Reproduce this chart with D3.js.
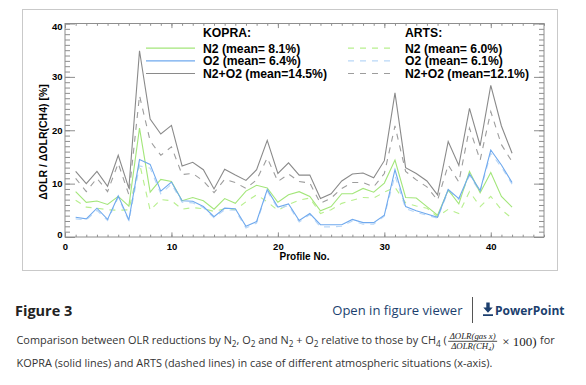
<!DOCTYPE html>
<html>
<head>
<meta charset="utf-8">
<script src="https://cdn.jsdelivr.net/npm/d3@7"></script>
<style>
  body { margin: 0; background: #fff; }
  .plot text { font-family: 'Liberation Sans', Arial, sans-serif; }
  .cap { font-family: 'Open Sans', sans-serif; }
  .serif { font-family: 'Liberation Serif', 'DejaVu Serif', serif; }
</style>
</head>
<body>
<div id="chart"></div>
<script>
// OLR reduction ratio chart, KOPRA vs ARTS

const profiles = d3.range(1, 43) // profile no. 1..42

const kopraN2 = [8.5, 6.5, 6.75, 6.1, 7.6, 5.8, 20.4, 8.4, 10.8, 10.4, 6.8, 7.4, 6.8, 5.2, 7.2, 6.3, 8.6, 9.7, 9.2, 6.5, 7.9, 8.5, 7.6, 4.9, 5.7, 8.1, 8.1, 9.1, 8.4, 10.1, 14.4, 7.4, 7.3, 5.7, 4.1, 8.8, 6.2, 12.3, 8.3, 12.1, 7.6, 5.6]
const kopraO2 = [3.7, 3.4, 5.4, 3.3, 7.7, 3.2, 14.5, 13.6, 8.6, 10.3, 6.8, 6.7, 5.7, 3.8, 5.4, 5.3, 2.0, 2.9, 8.9, 5.6, 6.2, 3.1, 4.4, 2.3, 2.3, 2.3, 3.3, 2.7, 2.7, 4.1, 12.6, 5.7, 4.9, 4.3, 3.7, 8.9, 7.2, 11.8, 8.7, 16.3, 13.5, 10.2]
const kopraN2O2 = [12.3, 10.0, 12.3, 9.5, 15.3, 9.1, 34.9, 22.1, 19.3, 20.9, 13.3, 14.0, 12.6, 9.0, 12.7, 11.6, 10.6, 12.6, 18.1, 11.9, 13.9, 11.6, 11.6, 7.2, 8.1, 10.5, 11.8, 12.0, 11.1, 14.3, 27.0, 13.0, 11.9, 10.5, 7.9, 17.9, 13.4, 24.1, 17.1, 28.4, 20.8, 15.7]
const artsN2 = [6.9, 5.6, 5.4, 5.1, 5.0, 5.1, 13.8, 5.0, 7.0, 6.8, 5.2, 5.5, 5.3, 4.8, 5.3, 5.1, 6.6, 7.9, 6.6, 5.0, 6.1, 6.9, 7.3, 4.4, 5.1, 6.3, 6.9, 7.4, 7.3, 8.4, 9.3, 6.4, 5.8, 5.4, 3.8, 5.2, 4.4, 8.5, 5.7, 7.6, 5.1, 3.5]
const artsO2 = [3.4, 3.2, 5.0, 3.1, 7.4, 3.0, 13.3, 12.9, 8.1, 9.9, 6.5, 6.4, 5.5, 3.6, 5.1, 5.0, 1.7, 2.6, 8.6, 5.3, 5.9, 2.8, 4.2, 1.9, 1.9, 2.0, 3.0, 2.4, 2.4, 3.9, 11.5, 5.3, 4.6, 4.1, 3.5, 8.6, 7.0, 11.5, 8.4, 15.7, 13.1, 9.9]
const artsN2O2 = [11.0, 8.5, 11.0, 8.5, 13.8, 7.9, 26.5, 18.0, 15.3, 16.9, 11.7, 11.9, 10.5, 8.3, 10.8, 10.2, 9.1, 10.7, 14.8, 10.4, 11.8, 10.4, 10.1, 6.3, 7.3, 9.1, 10.2, 10.2, 9.4, 11.9, 20.8, 12.3, 10.7, 9.4, 6.9, 13.5, 10.3, 20.4, 14.4, 23.5, 17.3, 14.1]

const xTicks = [0, 10, 20, 30, 40]
const yTicks = [0, 10, 20, 30, 40]
const kopraLabels = ['N2 (mean= 8.1%)', 'O2 (mean= 6.4%)', 'N2+O2 (mean=14.5%)']
const artsLabels = ['N2 (mean= 6.0%)', 'O2 (mean= 6.1%)', 'N2+O2 (mean=12.1%)']

const width = 586
const height = 385
const plot = { left: 65, right: 544, top: 23.5, bottom: 237 }
const axisColor = '#8e8e8e'

const green = '#a3e67a'
const greenDash = '#b8ef8e'
const blue = '#6fa9ee'
const blueDash = '#b9d7f7'
const gray = '#8a8a8a'
const grayDash = '#9d9d9d'

const svg = d3.select('#chart').append('svg').attr('width', width).attr('height', height)

// figure frame
svg.append('rect')
  .attr('x', 22.5).attr('y', 9.5).attr('width', 535).attr('height', 261)
  .attr('fill', 'none').attr('stroke', '#c9c9c9')

const g = svg.append('g').attr('class', 'plot')

const x = d3.scaleLinear().domain([0, 45]).range([plot.left, plot.right])
const y = d3.scaleLinear().domain([0, 40]).range([plot.bottom, plot.top])

function styleAxis (sel) {
  sel.select('.domain').remove()
  sel.selectAll('line').attr('stroke', axisColor)
  sel.selectAll('text')
    .attr('fill', '#000')
    .attr('font-weight', 'bold')
    .attr('font-size', 9.5)
    .attr('font-family', "'Liberation Sans', Arial, sans-serif")
}

// minor ticks, all four sides
g.append('g').attr('transform', 'translate(0,' + plot.bottom + ')')
  .call(d3.axisBottom(x).tickValues(d3.range(0, 46)).tickSize(-2.3).tickFormat(''))
  .call(styleAxis)
g.append('g').attr('transform', 'translate(0,' + plot.top + ')')
  .call(d3.axisTop(x).tickValues(d3.range(0, 46)).tickSize(-2.3).tickFormat(''))
  .call(styleAxis)
g.append('g').attr('transform', 'translate(' + plot.left + ',0)')
  .call(d3.axisLeft(y).tickValues(d3.range(0, 41)).tickSize(-5).tickFormat(''))
  .call(styleAxis)
g.append('g').attr('transform', 'translate(' + plot.right + ',0)')
  .call(d3.axisRight(y).tickValues(d3.range(0, 41)).tickSize(-5).tickFormat(''))
  .call(styleAxis)

// major ticks
g.append('g').attr('transform', 'translate(0,' + plot.bottom + ')')
  .call(d3.axisBottom(x).tickValues(xTicks).tickSize(-4.6).tickPadding(6.3))
  .call(styleAxis)
g.append('g').attr('transform', 'translate(0,' + plot.top + ')')
  .call(d3.axisTop(x).tickValues(xTicks).tickSize(-4.6).tickFormat(''))
  .call(styleAxis)
const yl = g.append('g').attr('transform', 'translate(' + plot.left + ',0)')
  .call(d3.axisLeft(y).tickValues(yTicks).tickSize(-10).tickPadding(2.5))
  .call(styleAxis)
yl.selectAll('text').attr('dy', d => d === 40 ? '0.62em' : d === 0 ? '0.1em' : '0.32em')
g.append('g').attr('transform', 'translate(' + plot.right + ',0)')
  .call(d3.axisRight(y).tickValues(yTicks).tickSize(-10).tickFormat(''))
  .call(styleAxis)

// plot box
g.append('rect')
  .attr('x', plot.left).attr('y', plot.top)
  .attr('width', plot.right - plot.left).attr('height', plot.bottom - plot.top)
  .attr('fill', 'none').attr('stroke', axisColor)

// axis titles
g.append('text')
  .attr('x', (plot.left + plot.right) / 2).attr('y', 259.5)
  .attr('text-anchor', 'middle').attr('font-weight', 'bold').attr('font-size', 10)
  .text('Profile No.')
g.append('text')
  .attr('transform', 'translate(46.5,142) rotate(-90)')
  .attr('text-anchor', 'middle').attr('font-weight', 'bold').attr('font-size', 10.5)
  .text('ΔOLR / ΔOLR(CH4) [%]')

// series lines
const series = [
  { values: artsN2, color: greenDash, dash: '6,6' },
  { values: artsN2O2, color: grayDash, dash: '6,6' },
  { values: artsO2, color: blueDash, dash: '6,6' },
  { values: kopraN2, color: green, dash: null },
  { values: kopraN2O2, color: gray, dash: null },
  { values: kopraO2, color: blue, dash: null }
]

const line = d3.line()
  .x((d, i) => x(profiles[i]))
  .y(d => y(d))

g.selectAll('path.series')
  .data(series)
  .join('path')
  .attr('class', 'series')
  .attr('d', d => line(d.values))
  .attr('fill', 'none')
  .attr('stroke', d => d.color)
  .attr('stroke-width', 1.1)
  .attr('stroke-dasharray', d => d.dash)

// legends
const legendRows = [48.2, 60.9, 73.5]
const kopraColors = [green, blue, gray]
const artsColors = [greenDash, blueDash, grayDash]
const legendSize = 12.2

function legend (title, labels, colors, dash, lx0, lx1, tx) {
  const lg = g.append('g')
  lg.append('text')
    .attr('x', tx).attr('y', 37.2)
    .attr('font-weight', 'bold').attr('font-size', legendSize)
    .text(title)
  labels.forEach((lab, i) => {
    lg.append('line')
      .attr('x1', lx0).attr('x2', lx1)
      .attr('y1', legendRows[i]).attr('y2', legendRows[i])
      .attr('stroke', colors[i]).attr('stroke-width', 1.2)
      .attr('stroke-dasharray', dash)
    lg.append('text')
      .attr('x', tx).attr('y', legendRows[i] + 4.3)
      .attr('font-weight', 'bold').attr('font-size', legendSize)
      .text(lab)
  })
}
legend('KOPRA:', kopraLabels, kopraColors, null, 146, 195, 203)
legend('ARTS:', artsLabels, artsColors, '6,6', 348, 390, 405)

// caption area
const cap = svg.append('g').attr('class', 'cap')
const navy = '#1c3f6e'

cap.append('text')
  .attr('x', 15).attr('y', 315.5)
  .attr('font-weight', 'bold').attr('font-size', 14.5).attr('fill', '#222')
  .text('Figure 3')

cap.append('text')
  .attr('x', 462.5).attr('y', 315)
  .attr('text-anchor', 'end').attr('font-size', 13.05).attr('fill', navy)
  .text('Open in figure viewer')

cap.append('line')
  .attr('x1', 472.5).attr('x2', 472.5).attr('y1', 297).attr('y2', 323)
  .attr('stroke', '#555')

// download icon
cap.append('path')
  .attr('d', 'M486.3,302.5 h3.4 v5 h3 l-4.7,5.2 l-4.7,-5.2 h3 z M483,314.3 h10 v1.8 h-10 z')
  .attr('fill', navy)

cap.append('text')
  .attr('x', 564.5).attr('y', 315)
  .attr('text-anchor', 'end').attr('font-size', 12).attr('font-weight', 'bold').attr('fill', navy)
  .text('PowerPoint')

// caption line 1, with subscripts and a fraction
const capColor = '#333'
const capSize = 10.9
const capX = 16.5
const l1y = 344
const l1 = cap.append('text')
  .attr('x', capX).attr('y', l1y)
  .attr('font-size', capSize).attr('fill', capColor)

const parts = [
  ['Comparison between OLR reductions by N', 0], ['2', 1], [', O', 0], ['2', 1],
  [' and N', 0], ['2', 1], [' + O', 0], ['2', 1], [' relative to those by CH', 0], ['4', 1], [' (', 0]
]
l1.selectAll('tspan')
  .data(parts)
  .join('tspan')
  .attr('font-size', d => d[1] ? 8.2 : capSize)
  .attr('dy', (d, i) => d[1] ? 3 : (i > 0 && parts[i - 1][1] ? -3 : 0))
  .text(d => d[0])

const l1end = capX + l1.node().getComputedTextLength()
const fx0 = l1end + 1.5
const fw = 49
const fcx = fx0 + fw / 2

cap.append('text')
  .attr('class', 'serif')
  .attr('x', fcx).attr('y', 338.5)
  .attr('text-anchor', 'middle').attr('font-size', 8.8).attr('font-style', 'italic').attr('fill', '#222')
  .text('ΔOLR(gas x)')
cap.append('line')
  .attr('x1', fx0).attr('x2', fx0 + fw).attr('y1', 341.3).attr('y2', 341.3)
  .attr('stroke', '#222').attr('stroke-width', 0.8)
const den = cap.append('text')
  .attr('class', 'serif')
  .attr('x', fcx).attr('y', 349.3)
  .attr('text-anchor', 'middle').attr('font-size', 8.8).attr('font-style', 'italic').attr('fill', '#222')
den.append('tspan').text('ΔOLR(CH')
den.append('tspan').attr('font-size', 6.2).attr('dy', 1.5).text('4')
den.append('tspan').attr('dy', -1.5).text(')')

const times = cap.append('text')
  .attr('class', 'serif')
  .attr('x', fx0 + fw + 5).attr('y', l1y + 1.5)
  .attr('font-size', 13).attr('fill', '#222')
  .text('× 100)')

cap.append('text')
  .attr('x', fx0 + fw + 5 + times.node().getComputedTextLength() + 3.5).attr('y', l1y)
  .attr('font-size', capSize).attr('fill', capColor)
  .text('for')

cap.append('text')
  .attr('x', capX).attr('y', 366.5)
  .attr('font-size', capSize).attr('fill', capColor)
  .text('KOPRA (solid lines) and ARTS (dashed lines) in case of different atmospheric situations (x-axis).')
</script>
</body>
</html>
